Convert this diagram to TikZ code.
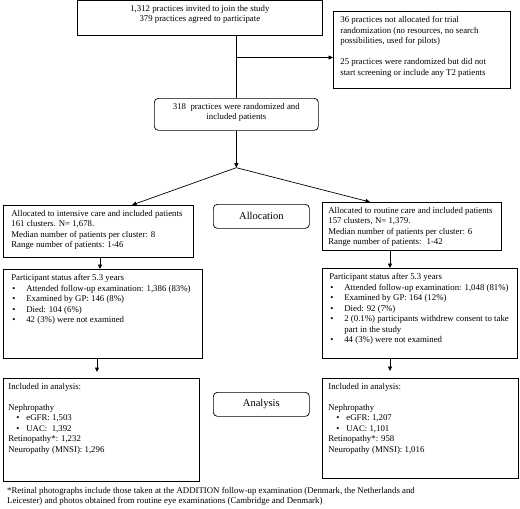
\documentclass[tikz,border=0pt]{standalone}
\usepackage{fontspec}
\setmainfont{Liberation Serif}
\usetikzlibrary{arrows.meta,positioning,calc}
\newcommand{\bodyfont}{\fontsize{8.8}{10.5}\selectfont}
\newcommand{\headfont}{\fontsize{10.5}{12}\selectfont}
\newcommand{\boxtxt}[3]{\parbox[t][#2][t]{#1}{\raggedright #3}}
\newcommand{\bul}{\makebox[15pt][l]{\hspace{1pt}\textbullet}}
\newcommand{\subbul}{\hspace*{8pt}\makebox[10pt][l]{\textbullet}}

\begin{document}
\begin{tikzpicture}[x=1pt, y=-1pt,
  box/.style={draw, line width=0.7pt, anchor=north west, inner xsep=6pt,
              inner ysep=5pt, font=\bodyfont},
  roundbox/.style={box, rounded corners=4pt},
  phase/.style={roundbox, font=\headfont, minimum width=96pt,
                minimum height=24pt, inner sep=0pt},
  conn/.style={line width=0.7pt},
  arr/.style={conn, -{Triangle[length=4.5pt,width=4pt]}},
]
  \useasboundingbox (0,0) rectangle (520,509);

  % Recruitment
  \node[box, inner xsep=0pt] (invite) at (77,0)
       {\boxtxt{245pt}{25pt}{\centering 1,312 practices invited to join the study\\379 practices agreed to participate}};
  \node[box, inner xsep=7pt] (excl) at (333,11)
       {\boxtxt{163pt}{67pt}{36 practices not allocated for trial\\randomization (no resources, no search\\possibilities, used for pilots)\\[10.5pt]25 practices were randomized but did not\\start screening or include any T2 patients}};
  \node[roundbox, inner xsep=0pt] (rand) at (154,98)
       {\boxtxt{164pt}{22pt}{\centering 318~ practices were randomized and\\included patients}};

  % Allocation
  \node[box, inner xsep=8pt] (intv) at (3,205)
       {\boxtxt{174pt}{42pt}{Allocated to intensive care and included patients\\161 clusters. N= 1,678.\\Median number of patients per cluster: 8\\Range number of patients: 1-46}};
  \node[phase] (alloc) at (213,204) {Allocation};
  \node[box, inner xsep=6pt] (rout) at (322,202)
       {\boxtxt{167pt}{38pt}{Allocated to routine care and included patients\\157 clusters, N= 1,379.\\Median number of patients per cluster: 6\\Range number of patients:~ 1-42}};

  % Follow-up
  \node[box, inner xsep=8pt] (lstat) at (3,269)
       {\boxtxt{183pt}{79pt}{Participant status after 5.3 years\\\bul Attended follow-up examination: 1,386 (83\%)\\\bul Examined by GP: 146 (8\%)\\\bul Died: 104 (6\%)\\\bul 42 (3\%) were not examined}};
  \node[box, inner xsep=7pt] (rstat) at (322,268)
       {\boxtxt{181pt}{80pt}{Participant status after 5.3 years\\\bul Attended follow-up examination: 1,048 (81\%)\\\bul Examined by GP: 164 (12\%)\\\bul Died: 92 (7\%)\\\bul 2 (0.1\%) participants withdrew consent to take\\\hspace*{15pt}part in the study\\\bul 44 (3\%) were not examined}};

  % Analysis
  \node[box, inner xsep=5pt] (lanal) at (3,378)
       {\boxtxt{186pt}{93pt}{Included in analysis:\\[10.5pt]Nephropathy\\\subbul eGFR: 1,503\\\subbul UAC:~ 1,392\\Retinopathy*: 1,232\\Neuropathy (MNSI): 1,296}};
  \node[phase] (anal) at (213,392) {Analysis};
  \node[box, inner xsep=6pt] (ranal) at (322,378)
       {\boxtxt{184pt}{90pt}{Included in analysis:\\[10.5pt]Nephropathy\\\subbul eGFR: 1,207\\\subbul UAC: 1,101\\Retinopathy*: 958\\Neuropathy (MNSI): 1,016}};

  % Footnote
  \node[anchor=north west, inner sep=0pt, font=\bodyfont, align=left] (note) at (7,487)
       {*Retinal photographs include those taken at the ADDITION follow-up examination (Denmark, the Netherlands and\\Leicester) and photos obtained from routine eye examinations (Cambridge and Denmark)};

  % Connectors
  \draw[conn] (invite.south -| rand.north) -- (rand.north);
  \coordinate (branch) at ($(invite.south -| rand.north)!0.35!(rand.north)$);
  \draw[arr] (branch) -- (branch -| excl.west);
  \coordinate[below=37pt of rand.south] (split);
  \draw[arr] (rand.south) -- (split);
  \draw[arr] (split) -- ([xshift=129pt]intv.north west);
  \draw[arr] (split) -- ([xshift=48pt]rout.north west);
  \draw[arr] ([xshift=97pt]intv.south west) -- ([xshift=97pt]intv.south west |- lstat.north);
  \draw[arr] ([xshift=68pt]rout.south west) -- ([xshift=68pt]rout.south west |- rstat.north);
  \draw[arr, shorten >=6pt] ([xshift=94pt]lstat.south west) -- ([xshift=94pt]lstat.south west |- lanal.north);
  \draw[arr, shorten >=7pt] ([xshift=68pt]rstat.south west) -- ([xshift=68pt]rstat.south west |- ranal.north);
\end{tikzpicture}
\end{document}
